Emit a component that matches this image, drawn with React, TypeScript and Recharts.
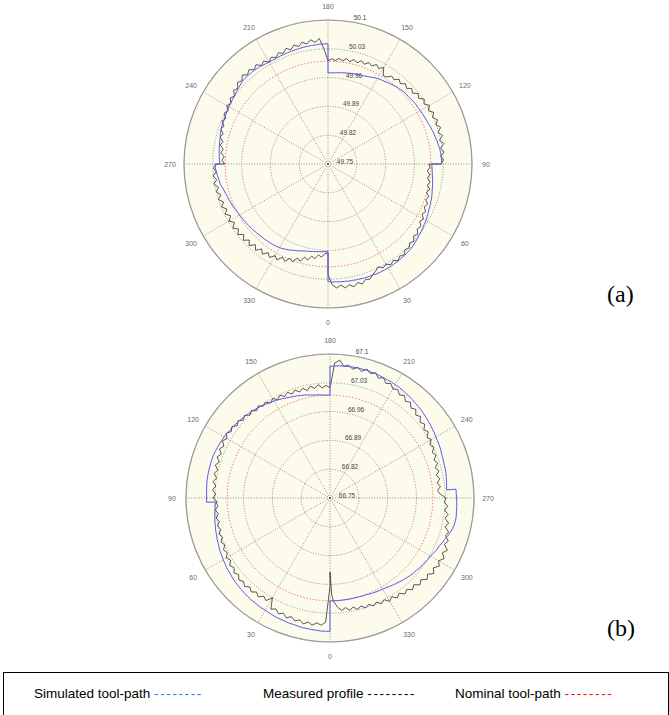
import React from 'react';
import { RadarChart, Radar, PolarGrid, PolarAngleAxis, PolarRadiusAxis } from 'recharts';

// ---------- shared ----------
const ANGLE_TICKS = [0, 30, 60, 90, 120, 150, 180, 210, 240, 270, 300, 330];

// ---------- chart (a) ----------
const ANGLES_A = [
  0, 2, 4, 6, 8, 10, 12, 14, 16, 18, 20, 22, 24, 26, 28, 30, 32, 34, 36, 38, 40, 42, 44, 46, 48, 50, 52, 54, 56, 58, 60, 62, 64, 66, 68, 70, 72, 74, 76, 78, 80, 82, 84, 86, 88, 90,
  90, 92, 94, 96, 98, 100, 102, 104, 106, 108, 110, 112, 114, 116, 118, 120, 122, 124, 126, 128, 130, 132, 134, 136, 138, 140, 142, 144, 146, 148, 150, 152, 154, 156, 158, 160, 162, 164, 166, 168, 170, 172, 174, 176, 178, 180,
  180, 182, 184, 186, 188, 190, 192, 194, 196, 198, 200, 202, 204, 206, 208, 210, 212, 214, 216, 218, 220, 222, 224, 226, 228, 230, 232, 234, 236, 238, 240, 242, 244, 246, 248, 250, 252, 254, 256, 258, 260, 262, 264, 266, 268, 270,
  270, 272, 274, 276, 278, 280, 282, 284, 286, 288, 290, 292, 294, 296, 298, 300, 302, 304, 306, 308, 310, 312, 314, 316, 318, 320, 322, 324, 326, 328, 330, 332, 334, 336, 338, 340, 342, 344, 346, 348, 350, 352, 354, 356, 358, 360,
];
const SIM_A = [
  50.036, 50.037, 50.037, 50.038, 50.038, 50.039, 50.039, 50.040, 50.040, 50.041,
  50.041, 50.041, 50.042, 50.042, 50.042, 50.042, 50.042, 50.041, 50.041, 50.040,
  50.040, 50.039, 50.038, 50.037, 50.035, 50.033, 50.031, 50.030, 50.028, 50.026,
  50.025, 50.023, 50.021, 50.019, 50.018, 50.016, 50.015, 50.013, 50.011, 50.010,
  50.008, 50.007, 50.005, 50.004, 50.003, 50.002,
  50.026, 50.026, 50.026, 50.025, 50.024, 50.022, 50.021, 50.019, 50.018, 50.016,
  50.015, 50.013, 50.012, 50.011, 50.010, 50.009, 50.008, 50.008, 50.007, 50.006,
  50.005, 50.005, 50.004, 50.002, 50.001, 49.999, 49.997, 49.995, 49.993, 49.992,
  49.990, 49.988, 49.985, 49.983, 49.981, 49.980, 49.979, 49.978, 49.977, 49.976,
  49.975, 49.974, 49.973, 49.972, 49.972, 49.971,
  50.042, 50.042, 50.042, 50.041, 50.041, 50.040, 50.040, 50.039, 50.039, 50.038,
  50.038, 50.037, 50.037, 50.036, 50.036, 50.036, 50.037, 50.038, 50.039, 50.040,
  50.040, 50.040, 50.040, 50.039, 50.037, 50.035, 50.033, 50.031, 50.030, 50.029,
  50.028, 50.027, 50.026, 50.025, 50.024, 50.024, 50.023, 50.022, 50.020, 50.019,
  50.018, 50.017, 50.016, 50.015, 50.014, 50.013,
  50.025, 50.024, 50.022, 50.020, 50.018, 50.017, 50.014, 50.011, 50.009, 50.007,
  50.006, 50.004, 50.003, 50.001, 49.999, 49.998, 49.997, 49.996, 49.995, 49.994,
  49.993, 49.992, 49.991, 49.990, 49.989, 49.989, 49.988, 49.988, 49.987, 49.986,
  49.985, 49.983, 49.981, 49.979, 49.976, 49.974, 49.972, 49.970, 49.968, 49.967,
  49.966, 49.965, 49.964, 49.964, 49.963, 49.963,
];
const MEAS_A = [
  50.018, 50.044, 50.052, 50.046, 50.054, 50.048, 50.055, 50.047, 50.053, 50.045,
  50.048, 50.040, 50.035, 50.028, 50.036, 50.031, 50.039, 50.033, 50.040, 50.034,
  50.038, 50.030, 50.034, 50.026, 50.031, 50.022, 50.027, 50.018, 50.022, 50.013,
  50.018, 50.009, 50.014, 50.006, 50.011, 50.003, 50.008, 49.999, 50.005, 49.997,
  50.002, 49.994, 49.999, 49.992, 49.998, 49.995,
  50.024, 50.031, 50.024, 50.034, 50.026, 50.036, 50.027, 50.037, 50.028, 50.038,
  50.029, 50.037, 50.028, 50.036, 50.026, 50.035, 50.025, 50.032, 50.022, 50.028,
  50.018, 50.024, 50.015, 50.021, 50.013, 50.019, 50.010, 50.014, 50.005, 50.003,
  50.021, 50.013, 50.019, 50.011, 50.016, 50.008, 50.014, 50.006, 50.012, 50.004,
  50.010, 50.003, 50.008, 50.002, 50.006, 50.001,
  50.001, 50.030, 50.056, 50.047, 50.055, 50.046, 50.053, 50.044, 50.051, 50.042,
  50.049, 50.040, 50.046, 50.038, 50.044, 50.036, 50.045, 50.039, 50.048, 50.041,
  50.049, 50.042, 50.050, 50.041, 50.046, 50.036, 50.041, 50.031, 50.037, 50.028,
  50.034, 50.025, 50.031, 50.022, 50.028, 50.019, 50.024, 50.015, 50.020, 50.011,
  50.016, 50.007, 50.012, 50.003, 50.008, 50.001,
  50.020, 50.029, 50.022, 50.031, 50.023, 50.032, 50.022, 50.030, 50.021, 50.030,
  50.020, 50.029, 50.019, 50.028, 50.018, 50.028, 50.018, 50.029, 50.019, 50.028,
  50.017, 50.027, 50.016, 50.026, 50.014, 50.024, 50.012, 50.021, 50.010, 50.018,
  50.007, 50.014, 50.002, 50.009, 49.997, 50.003, 49.990, 49.996, 49.983, 49.989,
  49.977, 49.983, 49.972, 49.977, 49.968, 49.966,
];
const NOMINAL_A = 50.0;
const DOMAIN_A = [49.75, 50.1];
const RING_TICKS_A = [49.75, 49.82, 49.89, 49.96, 50.03, 50.1];

// ---------- chart (b) ----------
const ANGLES_B = [
  0, 2, 4, 6, 8, 10, 12, 14, 16, 18, 20, 22, 24, 26, 28, 30, 32, 34, 36, 38, 40, 42, 44, 46, 48, 50, 52, 54, 56, 58, 60, 62, 64, 66, 68, 70, 72, 74, 76, 78, 80, 82, 84, 86, 88,
  88, 90, 92, 94, 96, 98, 100, 102, 104, 106, 108, 110, 112, 114, 116, 118, 120, 122, 124, 126, 128, 130, 132, 134, 136, 138, 140, 142, 144, 146, 148, 150, 152, 154, 156, 158, 160, 162, 164, 166, 168, 170, 172, 174, 176, 178, 180,
  180, 182, 184, 186, 188, 190, 192, 194, 196, 198, 200, 202, 204, 206, 208, 210, 212, 214, 216, 218, 220, 222, 224, 226, 228, 230, 232, 234, 236, 238, 240, 242, 244, 246, 248, 250, 252, 254, 256, 258, 260, 262, 264, 266,
  266, 268, 270, 272, 274, 276, 278, 280, 282, 284, 286, 288, 290, 292, 294, 296, 298, 300, 302, 304, 306, 308, 310, 312, 314, 316, 318, 320, 322, 324, 326, 328, 330, 332, 334, 336, 338, 340, 342, 344, 346, 348, 350, 352, 354, 356, 358,
  359, 360,
];
const SIM_B = [
  67.074, 67.074, 67.074, 67.073, 67.073, 67.072, 67.072, 67.071, 67.070, 67.070,
  67.069, 67.068, 67.068, 67.067, 67.066, 67.065, 67.065, 67.064, 67.063, 67.063,
  67.062, 67.061, 67.060, 67.059, 67.058, 67.057, 67.055, 67.054, 67.053, 67.051,
  67.050, 67.048, 67.047, 67.045, 67.043, 67.042, 67.040, 67.039, 67.037, 67.036,
  67.034, 67.033, 67.031, 67.030, 67.029,
  67.050, 67.050, 67.050, 67.051, 67.051, 67.052, 67.052, 67.052, 67.052, 67.052,
  67.052, 67.052, 67.051, 67.050, 67.049, 67.048, 67.047, 67.046, 67.044, 67.043,
  67.041, 67.040, 67.038, 67.037, 67.035, 67.034, 67.032, 67.030, 67.028, 67.026,
  67.024, 67.022, 67.020, 67.018, 67.016, 67.014, 67.012, 67.011, 67.009, 67.008,
  67.006, 67.004, 67.003, 67.002, 67.001, 67.000, 67.000,
  67.070, 67.071, 67.072, 67.072, 67.073, 67.073, 67.073, 67.073, 67.073, 67.072,
  67.072, 67.071, 67.070, 67.069, 67.069, 67.068, 67.067, 67.066, 67.064, 67.063,
  67.062, 67.060, 67.059, 67.058, 67.056, 67.055, 67.053, 67.052, 67.050, 67.049,
  67.047, 67.046, 67.045, 67.044, 67.042, 67.041, 67.040, 67.039, 67.039, 67.038,
  67.037, 67.036, 67.035, 67.034,
  67.057, 67.057, 67.058, 67.058, 67.059, 67.059, 67.060, 67.060, 67.059, 67.057,
  67.054, 67.050, 67.046, 67.043, 67.040, 67.038, 67.035, 67.032, 67.031, 67.029,
  67.028, 67.026, 67.024, 67.023, 67.021, 67.019, 67.017, 67.015, 67.013, 67.011,
  67.009, 67.007, 67.006, 67.005, 67.004, 67.003, 67.002, 67.001, 67.001, 67.000,
  67.000, 67.000, 67.000, 67.000, 67.000, 67.000, 67.000,
  67.000, 67.000,
];
const MEAS_B = [
  66.965, 67.052, 67.060, 67.055, 67.062, 67.056, 67.063, 67.055, 67.061, 67.053,
  67.060, 67.052, 67.058, 67.050, 67.056, 67.030, 67.044, 67.038, 67.047, 67.040,
  67.048, 67.041, 67.049, 67.042, 67.048, 67.040, 67.046, 67.038, 67.044, 67.035,
  67.041, 67.033, 67.038, 67.030, 67.036, 67.028, 67.034, 67.026, 67.032, 67.025,
  67.031, 67.024, 67.030, 67.023, 67.028,
  67.024, 67.034, 67.028, 67.036, 67.029, 67.037, 67.030, 67.038, 67.031, 67.040,
  67.033, 67.042, 67.035, 67.044, 67.037, 67.046, 67.039, 67.047, 67.039, 67.045,
  67.036, 67.042, 67.033, 67.039, 67.030, 67.036, 67.027, 67.034, 67.026, 67.031,
  67.022, 67.029, 67.021, 67.028, 67.020, 67.027, 67.019, 67.026, 67.018, 67.025,
  67.017, 67.026, 67.019, 67.027, 67.018, 67.024, 67.018,
  67.018, 67.078, 67.086, 67.072, 67.076, 67.068, 67.075, 67.067, 67.076, 67.068,
  67.074, 67.064, 67.070, 67.060, 67.065, 67.056, 67.061, 67.052, 67.058, 67.048,
  67.054, 67.044, 67.050, 67.040, 67.046, 67.036, 67.042, 67.032, 67.038, 67.028,
  67.034, 67.025, 67.031, 67.022, 67.028, 67.019, 67.025, 67.016, 67.023, 67.014,
  67.021, 67.013, 67.020, 67.012,
  67.012, 67.018, 67.032, 67.028, 67.037, 67.030, 67.040, 67.034, 67.045, 67.038,
  67.050, 67.045, 67.056, 67.050, 67.062, 67.054, 67.064, 67.055, 67.063, 67.053,
  67.062, 67.051, 67.058, 67.047, 67.054, 67.043, 67.050, 67.040, 67.046, 67.036,
  67.043, 67.033, 67.040, 67.030, 67.036, 67.027, 67.033, 67.025, 67.031, 67.023,
  67.029, 67.021, 67.027, 67.019, 67.025, 67.016, 67.002,
  66.985, 66.930,
];
const NOMINAL_B = 67.0;
const DOMAIN_B = [66.75, 67.1];
const RING_TICKS_B = [66.75, 66.82, 66.89, 66.96, 67.03, 67.1];

// ---------- legend ----------
const LEGEND_ITEMS = [
  { label: 'Simulated tool-path', dashes: '--------', color: '#2f7bf0' },
  { label: 'Measured profile', dashes: '--------', color: '#000000' },
  { label: 'Nominal tool-path', dashes: '--------', color: '#ff0000' },
];
const PANEL_LABELS = ['(a)', '(b)'];

// ---------- layout / style ----------
const W = 669;
const H = 715;
const PANEL_H = 330;
const R = 144;
const SANS = '"Liberation Sans", Arial, Helvetica, sans-serif';
const SERIF = '"Liberation Serif", "Times New Roman", serif';

function buildRows(angles: number[], sim: number[], meas: number[], nominal: number) {
  return angles.map((a, i) => ({ angle: a, sim: sim[i], meas: meas[i], nominal }));
}

const AngleTick = (props: any) => {
  const { x, y, payload } = props;
  if (payload == null || payload.value === 360) return <g />;
  return (
    <text x={x} y={y} textAnchor="middle" dominantBaseline="central" fontSize={7} fill="#6b6b6b" fontFamily={SANS}>
      {payload.value}
    </text>
  );
};

const fmtRing = (v: number) => String(Number(Number(v).toFixed(2)));

const RadiusTick = (props: any) => {
  const { x, y, payload } = props;
  if (payload == null) return <g />;
  return (
    <text x={x + 17} y={y - 3} textAnchor="middle" dominantBaseline="central" fontSize={6.5} fill="#444" fontFamily={SANS}>
      {fmtRing(payload.value)}
    </text>
  );
};

type PanelProps = {
  rows: any[];
  top: number;
  cx: number;
  cy: number;
  startAngle: number;
  endAngle: number;
  domain: number[];
  ringTicks: number[];
};

function PolarPanel({ rows, top, cx, cy, startAngle, endAngle, domain, ringTicks }: PanelProps) {
  return (
    <div style={{ position: 'absolute', left: 0, top, width: W, height: PANEL_H }}>
      <div
        style={{
          position: 'absolute',
          left: cx - R,
          top: cy - R,
          width: 2 * R,
          height: 2 * R,
          borderRadius: '50%',
          background: '#fdfbec',
        }}
      />
      <div style={{ position: 'absolute', left: 0, top: 0 }}>
        <RadarChart
          width={W}
          height={PANEL_H}
          data={rows}
          cx={cx}
          cy={cy}
          innerRadius={0}
          outerRadius={R}
          startAngle={startAngle}
          endAngle={endAngle}
          margin={{ top: 0, right: 0, bottom: 0, left: 0 }}
        >
          <PolarGrid gridType="circle" stroke="#4a4a4a" strokeDasharray="1 1.6" strokeWidth={0.6} />
          <PolarAngleAxis
            dataKey="angle"
            type="number"
            domain={[0, 360]}
            ticks={ANGLE_TICKS}
            tickCount={13}
            allowDataOverflow
            tick={<AngleTick />}
            tickLine={false}
            tickSize={14}
            axisLineType="circle"
            axisLine={{ stroke: '#9a9a9a', strokeWidth: 1.2 }}
          />
          <PolarRadiusAxis
            angle={84}
            type="number"
            domain={domain}
            ticks={ringTicks}
            tickCount={6}
            allowDataOverflow
            axisLine={false}
            tickLine={false}
            tick={<RadiusTick />}
          />
          <Radar
            dataKey="nominal"
            stroke="#f06464"
            strokeWidth={0.9}
            strokeDasharray="1.4 1.8"
            fill="none"
            fillOpacity={0}
            dot={false}
            isAnimationActive={false}
          />
          <Radar
            dataKey="meas"
            stroke="#2e2e2e"
            strokeWidth={0.8}
            fill="none"
            fillOpacity={0}
            dot={false}
            isAnimationActive={false}
          />
          <Radar
            dataKey="sim"
            stroke="#5a5ae8"
            strokeWidth={1}
            fill="none"
            fillOpacity={0}
            dot={false}
            isAnimationActive={false}
          />
        </RadarChart>
      </div>
    </div>
  );
}

export default function App() {
  const rowsA = buildRows(ANGLES_A, SIM_A, MEAS_A, NOMINAL_A);
  const rowsB = buildRows(ANGLES_B, SIM_B, MEAS_B, NOMINAL_B);
  const legendX = [34, 263, 455];
  return (
    <div
      style={{
        position: 'absolute',
        left: 0,
        top: 0,
        width: W,
        height: H,
        overflow: 'hidden',
        background: '#ffffff',
      }}
    >
      <PolarPanel rows={rowsA} top={0} cx={328} cy={164} startAngle={-90} endAngle={270} domain={DOMAIN_A} ringTicks={RING_TICKS_A} />
      <PolarPanel rows={rowsB} top={334} cx={330} cy={164} startAngle={270} endAngle={-90} domain={DOMAIN_B} ringTicks={RING_TICKS_B} />

      <div style={{ position: 'absolute', left: 607, top: 282, fontFamily: SERIF, fontSize: 24, lineHeight: '24px', color: '#000' }}>
        {PANEL_LABELS[0]}
      </div>
      <div style={{ position: 'absolute', left: 607, top: 616, fontFamily: SERIF, fontSize: 24, lineHeight: '24px', color: '#000' }}>
        {PANEL_LABELS[1]}
      </div>

      <div
        style={{
          position: 'absolute',
          left: 3,
          top: 672,
          width: 666,
          height: 60,
          border: '1px solid #000',
          boxSizing: 'border-box',
        }}
      />
      {LEGEND_ITEMS.map((it, i) => (
        <div
          key={it.label}
          style={{
            position: 'absolute',
            left: legendX[i],
            top: 686,
            fontFamily: SANS,
            fontSize: 13.5,
            lineHeight: '16px',
            whiteSpace: 'nowrap',
            color: '#000',
          }}
        >
          {it.label}{' '}
          <span style={{ color: it.color, letterSpacing: '1.6px' }}>{it.dashes}</span>
        </div>
      ))}
    </div>
  );
}
